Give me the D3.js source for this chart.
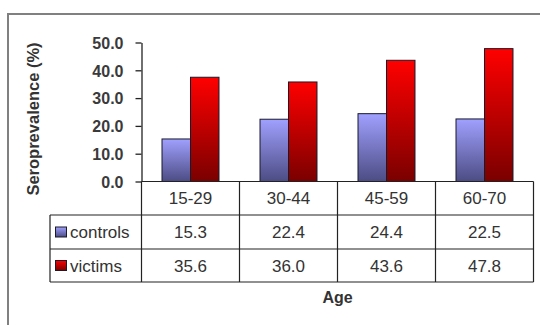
<!DOCTYPE html>
<html><head><meta charset="utf-8">
<script src="https://cdn.jsdelivr.net/npm/d3@7"></script>
<style>
html,body{margin:0;padding:0;background:#fff;}
svg{display:block;font-family:"Liberation Sans",Arial,sans-serif;}
</style></head>
<body>
<svg id="c" width="540" height="325"></svg>
<script>
// ---- data ----
const categories = ["15-29", "30-44", "45-59", "60-70"];
const seriesNames = ["controls", "victims"];
// bar heights as drawn in the picture
const controlsValues = [15.3, 22.4, 24.4, 22.5];
const victimsValues = [37.5, 35.8, 43.6, 47.8];
// values printed in the data table
const controlsTable = ["15.3", "22.4", "24.4", "22.5"];
const victimsTable = ["35.6", "36.0", "43.6", "47.8"];
const yTicks = [0, 10, 20, 30, 40, 50];

const svg = d3.select("#c");
const defs = svg.append("defs");
function grad(id, top, bottom) {
  const g = defs.append("linearGradient").attr("id", id)
    .attr("x1", 0).attr("y1", 0).attr("x2", 0).attr("y2", 1);
  g.append("stop").attr("offset", "0%").attr("stop-color", top);
  g.append("stop").attr("offset", "100%").attr("stop-color", bottom);
}
grad("gc", "#a0a0ff", "#4c4c84");
grad("gv", "#ff0000", "#7a0000");
const fills = ["url(#gc)", "url(#gv)"];

// outer frame
svg.append("path").attr("d", "M8,325 V14 H540")
  .attr("fill", "none").attr("stroke", "#808080").attr("stroke-width", 2);

const left = 141.5, right = 533.5, y0 = 181.5, yTop = 42.5;
const x = d3.scaleBand().domain(categories).range([left, right]).padding(0);
const xs = d3.scaleBand().domain(seriesNames).range([0, x.bandwidth()])
  .paddingInner(0).paddingOuter(0.72);
const y = d3.scaleLinear().domain([0, 50]).range([y0, yTop]);

// bars
const series = [controlsValues, victimsValues];
const g = svg.append("g");
categories.forEach((c, i) => {
  seriesNames.forEach((s, j) => {
    const v = series[j][i];
    g.append("rect")
      .attr("x", x(c) + xs(s))
      .attr("y", y(v))
      .attr("width", xs.bandwidth())
      .attr("height", y0 - y(v))
      .attr("fill", fills[j])
      .attr("stroke", "#1a1a2a").attr("stroke-width", 1);
  });
});

// y axis
const yAxis = d3.axisLeft(y).tickValues(yTicks).tickFormat(d3.format(".1f"))
  .tickSize(6).tickSizeOuter(0).tickPadding(12);
const ya = svg.append("g").attr("transform", `translate(${left},0)`).call(yAxis);
ya.select(".domain").attr("stroke", "#222").attr("stroke-width", 1.3);
ya.selectAll(".tick line").attr("stroke", "#222").attr("stroke-width", 1.3);
ya.selectAll(".tick text").attr("font-size", 16).attr("fill", "#3a3a3a")
  .attr("font-family", "Liberation Sans, Arial, sans-serif").attr("font-weight", "bold")
  .attr("dy", "0.36em");

// y title
svg.append("text")
  .attr("transform", "translate(39,119) rotate(-90)")
  .attr("text-anchor", "middle")
  .attr("font-size", 16.5).attr("font-weight", "bold").attr("fill", "#333")
  .text("Seroprevalence (%)");

// data table
const rowTops = [y0, 215, 249, 282];
const tableLeft = 50;
const lineColor = "#222";
const t = svg.append("g").attr("stroke", lineColor).attr("stroke-width", 1.2);
t.append("line").attr("x1", left).attr("x2", right).attr("y1", y0).attr("y2", y0);
[215, 249, 282].forEach(yy => t.append("line").attr("x1", tableLeft).attr("x2", right).attr("y1", yy).attr("y2", yy));
t.append("line").attr("x1", tableLeft).attr("x2", tableLeft).attr("y1", 215).attr("y2", 282);
categories.forEach(c => t.append("line").attr("x1", x(c)).attr("x2", x(c)).attr("y1", y0).attr("y2", 282));
t.append("line").attr("x1", right).attr("x2", right).attr("y1", y0).attr("y2", 282);

const txt = svg.append("g").attr("font-size", 17).attr("fill", "#333").attr("text-anchor", "middle");
categories.forEach(c => {
  txt.append("text").attr("x", x(c) + x.bandwidth() / 2).attr("y", (rowTops[0] + rowTops[1]) / 2).attr("dy", "0.36em").text(c);
});
[controlsTable, victimsTable].forEach((arr, r) => {
  const cy = (rowTops[r + 1] + rowTops[r + 2]) / 2;
  arr.forEach((v, i) => {
    txt.append("text").attr("x", x(categories[i]) + x.bandwidth() / 2).attr("y", cy).attr("dy", "0.36em").text(v);
  });
  svg.append("rect").attr("x", 55.5).attr("y", cy - 5).attr("width", 11).attr("height", 10)
    .attr("fill", fills[r]).attr("stroke", "#1a1a2a").attr("stroke-width", 1);
  svg.append("text").attr("x", 70).attr("y", cy).attr("dy", "0.36em")
    .attr("font-size", 17).attr("fill", "#333").text(seriesNames[r]);
});

// x title
svg.append("text").attr("x", (left + right) / 2).attr("y", 303)
  .attr("text-anchor", "middle").attr("font-size", 16).attr("font-weight", "bold").attr("fill", "#333")
  .text("Age");
</script>
</body></html>
